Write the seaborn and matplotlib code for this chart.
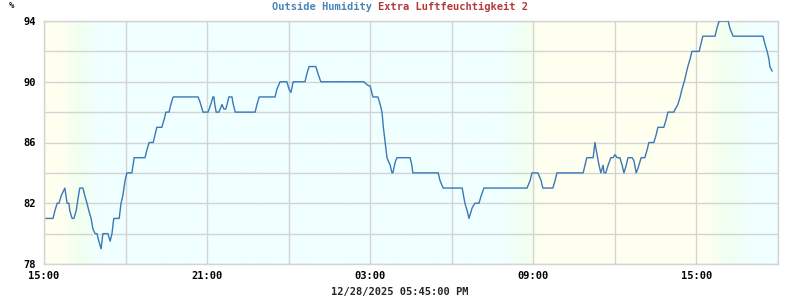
import numpy as np
import pandas as pd
import matplotlib
matplotlib.use("Agg")
import matplotlib.pyplot as plt
import matplotlib.dates as mdates
from matplotlib.colors import to_rgb
import seaborn as sns

# ---- data (minutes after 12/27/2025 15:00, relative humidity %) ----
minutes = [4, 20, 24, 29, 33, 38, 46, 51, 55, 57, 62, 66, 71, 75, 79, 86, 90, 95, 99,
           104, 108, 113, 117, 121, 126, 130, 141, 146, 150, 154, 161, 166, 170, 174,
           179, 183, 194, 199, 223, 227, 232, 241, 245, 249, 260, 265, 269, 276, 280,
           285, 340, 344, 351, 362, 368, 373, 375, 377, 380, 386, 393, 397, 401, 404,
           408, 415, 417, 422, 466, 470, 475, 510, 514, 521, 536, 541, 545, 550, 576,
           580, 585, 600, 605, 611, 706, 713, 720, 726, 737, 742, 746, 749, 753, 757,
           764, 768, 770, 775, 779, 808, 812, 814, 870, 874, 881, 923, 929, 934, 938,
           945, 951, 960, 965, 971, 1066, 1073, 1077, 1090, 1097, 1101, 1123, 1128,
           1132, 1190, 1194, 1198, 1212, 1216, 1220, 1225, 1229, 1234, 1236, 1240,
           1245, 1251, 1256, 1260, 1265, 1271, 1276, 1280, 1285, 1289, 1298, 1302,
           1307, 1311, 1318, 1326, 1331, 1335, 1346, 1351, 1355, 1368, 1373, 1377,
           1390, 1395, 1399, 1404, 1408, 1413, 1417, 1421, 1426, 1430, 1446, 1450,
           1454, 1481, 1485, 1490, 1510, 1514, 1521, 1587, 1591, 1596, 1600, 1602, 1607]
humidity = [81, 81, 81.5, 82, 82, 82.5, 83, 82, 82, 81.5, 81, 81, 81.5, 82.3, 83, 83,
            82.5, 82, 81.5, 81, 80.3, 80, 80, 79.5, 79, 80, 80, 79.5, 80, 81, 81, 81,
            82, 82.5, 83.5, 84, 84, 85, 85, 85.5, 86, 86, 86.5, 87, 87, 87.5, 88, 88,
            88.5, 89, 89, 88.7, 88, 88, 88.5, 89, 89, 88.5, 88, 88, 88.5, 88.2, 88.2,
            88.5, 89, 89, 88.6, 88, 88, 88.5, 89, 89, 89.5, 90, 90, 89.5, 89.3, 90, 90,
            90.5, 91, 91, 90.5, 90, 90, 89.8, 89.7, 89, 89, 88.5, 88, 87, 86, 85,
            84.5, 84, 84, 84.7, 85, 85, 84.5, 84, 84, 83.5, 83, 83, 82, 81.5, 81,
            81.7, 82, 82, 82.5, 83, 83, 83.5, 84, 84, 83.5, 83, 83, 83.5,
            84, 84, 84.5, 85, 85, 86, 85.3, 84.5, 84, 84.5, 84, 84,
            84.5, 85, 85, 85.2, 85, 85, 84.5, 84, 84.5, 85, 85, 84.8,
            84, 84.3, 85, 85, 85.5, 86, 86, 86.5, 87, 87, 87.5, 88,
            88, 88.3, 88.5, 89, 89.5, 90, 90.5, 91, 91.5, 92, 92, 92.5,
            93, 93, 93.5, 94, 94, 93.5, 93, 93, 92.5, 92, 91.5, 91, 90.7]

start = pd.Timestamp("2025-12-27 15:00")
end = pd.Timestamp("2025-12-28 18:00")
y_ticks = [78, 82, 86, 90, 94]
x_tick_labels = ["15:00", "21:00", "03:00", "09:00", "15:00"]
title_left = "Outside Humidity"
title_right = "Extra Luftfeuchtigkeit 2"
footer = "12/28/2025 05:45:00 PM"

df = pd.DataFrame({"time": start + pd.to_timedelta(minutes, unit="m"),
                   "humidity": humidity})

sns.set_style("white")
plt.rcParams["font.family"] = ["DejaVu Sans Mono", "DejaVu Sans"]
plt.rcParams["font.weight"] = "bold"

fig = plt.figure(figsize=(8, 3), dpi=100)
ax = fig.add_axes([44 / 800, 1 - 264 / 300, (778 - 44) / 800, (264 - 21) / 300])

# background day/night gradient
x0, x1 = mdates.date2num(start), mdates.date2num(end)
stops_h = [0, 0.66, 1.32, 2.06, 16.96, 17.7, 18.25, 24.3, 25.2, 26.15, 27]
yel, grn, cyn = "#fffff0", "#f0fff0", "#f0ffff"
stop_cols = [yel, yel, grn, cyn, cyn, grn, yel, yel, grn, cyn, cyn]
xs = np.linspace(0, 27, 800)
rgb = np.array([to_rgb(c) for c in stop_cols])
grad = np.stack([np.interp(xs, stops_h, rgb[:, k]) for k in range(3)], axis=-1)[None, :, :]
ax.imshow(grad, extent=[x0, x1, 78, 94], aspect="auto", zorder=0, interpolation="bilinear")

sns.lineplot(data=df, x="time", y="humidity", ax=ax, color="#3a78b8", linewidth=1.0,
             zorder=3)

ax.set_xlim(x0, x1)
ax.set_ylim(78, 94)
ax.set_yticks(np.arange(78, 95, 2))
ax.set_yticklabels([str(v) if v in y_ticks else "" for v in range(78, 95, 2)])
xt = [start + pd.Timedelta(hours=h) for h in range(0, 28, 3)]
ax.set_xticks(mdates.date2num(xt))
lab_map = {0: x_tick_labels[0], 6: x_tick_labels[1], 12: x_tick_labels[2],
           18: x_tick_labels[3], 24: x_tick_labels[4]}
ax.set_xticklabels([lab_map.get(h, "") for h in range(0, 28, 3)])
ax.grid(True, color="#d4d4d4", linewidth=1.0, zorder=1)
ax.set_axisbelow(False)
for s in ax.spines.values():
    s.set_color("#d4d4d4")
    s.set_linewidth(1.0)
    s.set_zorder(2)
ax.tick_params(axis="both", length=0, labelsize=7.5, colors="black")
ax.tick_params(axis="y", pad=6)
ax.tick_params(axis="x", pad=5)
for t in ax.get_xticklabels() + ax.get_yticklabels():
    t.set_fontweight("bold")
ax.set_xlabel("")
ax.set_ylabel("")

# title in two colours
fig.canvas.draw()
r = fig.canvas.get_renderer()
t1 = fig.text(0, 0, title_left + " ", fontsize=7.5, fontweight="bold", color="#4a84b8")
t2 = fig.text(0, 0, title_right, fontsize=7.5, fontweight="bold", color="#b03a3a")
w1 = t1.get_window_extent(r).width
w2 = t2.get_window_extent(r).width
xstart = 400 - (w1 + w2) / 2
t1.set_position((xstart / 800, 1 - 7 / 300))
t1.set_va("center")
t2.set_position(((xstart + w1) / 800, 1 - 7 / 300))
t2.set_va("center")

fig.text(12 / 800, 1 - 6 / 300, "%", fontsize=6.5, fontweight="bold", ha="center", va="center")
fig.text(400 / 800, 1 - 292 / 300, footer, fontsize=7.5, fontweight="bold",
         ha="center", va="center")

fig.savefig("out.png", dpi=100)
